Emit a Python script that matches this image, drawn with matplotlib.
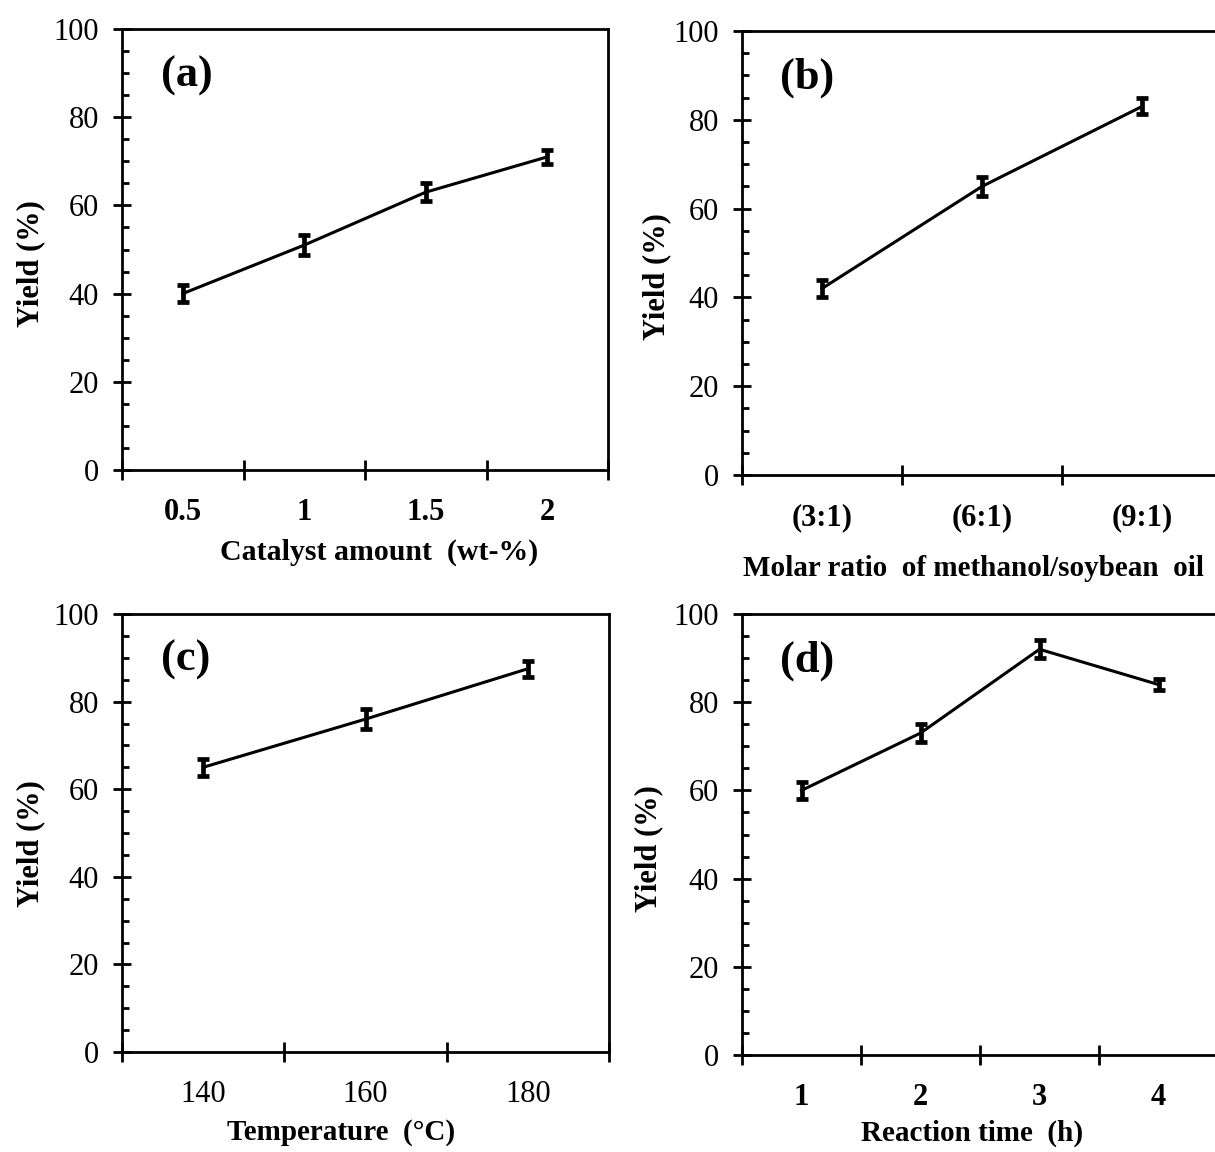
import matplotlib
matplotlib.use("Agg")
import matplotlib.pyplot as plt
import numpy as np
from matplotlib.ticker import MultipleLocator, FixedLocator

plt.rcParams['font.family'] = ['Liberation Serif', 'DejaVu Serif']

# (a) catalyst amount
cat_a = ["0.5", "1", "1.5", "2"]
yield_a = [40, 51, 63, 71]
err_a = [2.0, 2.3, 2.0, 1.5]

# (b) molar ratio
cat_b = ["(3:1)", "(6:1)", "(9:1)"]
yield_b = [42, 65, 83]
err_b = [2.0, 2.2, 1.8]

# (c) temperature
cat_c = ["140", "160", "180"]
yield_c = [65, 76, 87.5]
err_c = [2.0, 2.3, 1.8]

# (d) reaction time
cat_d = ["1", "2", "3", "4"]
yield_d = [60, 73, 92, 84]
err_d = [2.0, 2.0, 2.0, 1.2]

W, H = 1215, 1152
fig = plt.figure(figsize=(W / 100, H / 100), dpi=100)


def px_axes(x0, y0, x1, y1):
    # pixel box (left, top, right, bottom) -> figure fraction
    return fig.add_axes([x0 / W, 1 - y1 / H, (x1 - x0) / W, (y1 - y0) / H])


def panel(ax, cats, vals, errs, tag, xlabel, xl_pos, yl_pos, bold_ticks=True,
          xl_size=21.5):
    x = np.arange(len(cats))
    ax.errorbar(x, vals, yerr=errs, color="black", lw=2.2, elinewidth=3.4,
                capsize=4.5, capthick=3.4)
    ax.set_xlim(-0.5, len(cats) - 0.5)
    ax.set_ylim(0, 100)
    ax.yaxis.set_major_locator(MultipleLocator(20))
    ax.yaxis.set_minor_locator(MultipleLocator(5))
    ax.tick_params(axis="y", which="major", direction="inout", length=13,
                   width=2, labelsize=22, pad=10)
    ax.tick_params(axis="y", which="minor", direction="in", length=5, width=2)
    ax.set_xticks(x)
    ax.set_xticklabels(cats, fontweight="bold" if bold_ticks else "normal")
    ax.xaxis.set_minor_locator(FixedLocator(np.arange(len(cats) + 1) - 0.5))
    ax.tick_params(axis="x", which="major", length=0, labelsize=22, pad=20)
    ax.tick_params(axis="x", which="minor", direction="inout", length=14, width=2)
    for s in ax.spines.values():
        s.set_linewidth(2)
    ax.set_ylabel("Yield (%)", fontsize=22, fontweight="bold")
    ax.yaxis.set_label_coords(*yl_pos)
    ax.set_xlabel(xlabel, fontsize=xl_size, fontweight="bold")
    ax.xaxis.set_label_coords(*xl_pos)
    ax.text(0.08, 0.895, tag, transform=ax.transAxes, fontsize=32,
            fontweight="bold", va="center", ha="left")


ax_a = px_axes(122, 29, 608, 470)
panel(ax_a, cat_a, yield_a, err_a, "(a)", "Catalyst amount  (wt-%)",
      xl_pos=(0.53, -0.155), yl_pos=(-0.158, 0.469))

ax_b = px_axes(742, 31, 1222, 475)
panel(ax_b, cat_b, yield_b, err_b, "(b)", "Molar ratio  of methanol/soybean  oil",
      xl_pos=(0.483, -0.18), yl_pos=(-0.148, 0.448), xl_size=21)

ax_c = px_axes(122, 614, 609, 1052)
panel(ax_c, cat_c, yield_c, err_c, "(c)", "Temperature  (\u00b0C)",
      xl_pos=(0.45, -0.152), yl_pos=(-0.158, 0.477), bold_ticks=False, xl_size=21)

ax_d = px_axes(742, 614, 1218, 1055)
panel(ax_d, cat_d, yield_d, err_d, "(d)", "Reaction time  (h)",
      xl_pos=(0.483, -0.146), yl_pos=(-0.165, 0.469), xl_size=21)

fig.savefig("out.png", dpi=100)
